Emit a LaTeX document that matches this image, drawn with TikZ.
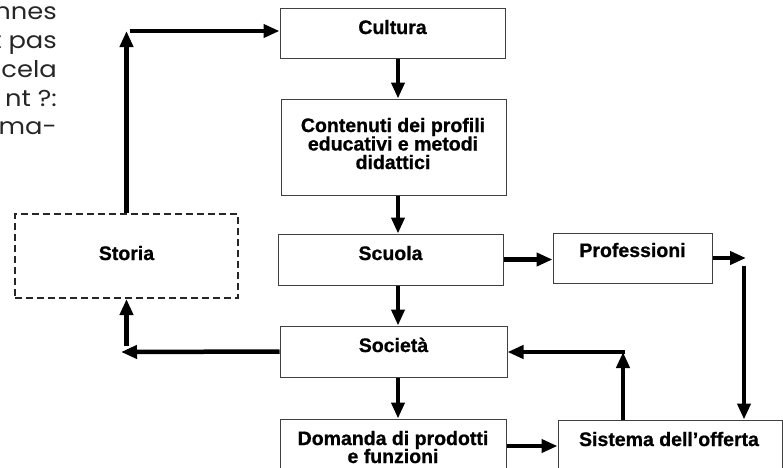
\documentclass[tikz,border=0pt]{standalone}
\usepackage{fontspec}
\setmainfont{Liberation Sans}
\newfontfamily\boxfont{Liberation Sans}[BoldFeatures={FakeBold=0.8}]
\newfontfamily\pagefont{Poppins}[FakeStretch=1.12]
\usetikzlibrary{arrows.meta}
\begin{document}
\begin{tikzpicture}[x=1pt,y=-1pt,
  box/.style={draw=black!75,line width=1pt,inner sep=0pt,rectangle},
  dbox/.style={draw=black!85,line width=2pt,dash pattern=on 7pt off 4pt,inner sep=0pt,rectangle},
  lbl/.style={font=\fontsize{19.5}{18}\boxfont\bfseries,inner sep=0pt,anchor=base,text height=13.5pt,text depth=3pt},
  ptxt/.style={font=\fontsize{23}{28}\pagefont,inner sep=0pt,anchor=base east,text=black!85},
  arr/.style={line width=4.5pt,-{Triangle[length=16pt,width=13pt]}}]
\useasboundingbox (0,0) rectangle (783,467);
% page text fragments
\node[ptxt] (l1) at (57,19) {nnes};
\node[ptxt] (l2) at (57,48) {t pas};
\node[ptxt] (l3) at (57,77) {cela};
\node[ptxt] (l4) at (57,106) {nt ?:};
\node[ptxt] (l5) at (57,134) {uma-};
% boxes
\node[box,minimum width=225pt,minimum height=50pt] (cul) at (392.5,33) {};
\node[box,minimum width=225pt,minimum height=96pt] (con) at (393.5,147) {};
\node[box,minimum width=225pt,minimum height=51pt] (scu) at (390.5,259.5) {};
\node[box,minimum width=159pt,minimum height=50pt] (pro) at (632.5,258) {};
\node[box,minimum width=227pt,minimum height=51pt] (soc) at (393.5,351.5) {};
\node[dbox,minimum width=223pt,minimum height=84pt] (sto) at (126.5,256) {};
\node[box,minimum width=226pt,minimum height=62pt] (dom) at (393,450) {};
\node[box,minimum width=224pt,minimum height=62pt] (sis) at (670,451) {};
% labels
\node[lbl] (tcul) at (392.5,34) {Cultura};
\node[lbl] (tcon1) at (393,132) {Contenuti dei profili};
\node[lbl] (tcon2) at (393,150.5) {educativi e metodi};
\node[lbl] (tcon3) at (393,169) {didattici};
\node[lbl] (tscu) at (390.5,260) {Scuola};
\node[lbl] (tpro) at (632.5,257) {Professioni};
\node[lbl] (tsoc) at (393.5,352) {Società};
\node[lbl] (tsto) at (126.5,260) {Storia};
\node[lbl] (tdom1) at (393,445) {Domanda di prodotti};
\node[lbl] (tdom2) at (393,463) {e funzioni};
\node[lbl] (tsis) at (669,446) {Sistema dell’offerta};
% helper coordinates
\coordinate (ax) at (398,0);
\coordinate (c1) at (126.5,31);
\coordinate (c1b) at (130,31);
\coordinate (c2) at (746,258);
\coordinate (c3) at (744,266);
\coordinate (c4) at (623,352);
\coordinate (c5) at (121,352);
\coordinate (c6) at (126.5,346);
\coordinate (c7) at (0,446);
% connectors
\draw[arr] (sto.north) -- (c1);
\draw[arr] (c1b) -- (c1b -| cul.west);
\draw[arr] (cul.south -| ax) -- (con.north -| ax);
\draw[arr] (con.south -| ax) -- (scu.north -| ax);
\draw[arr] (scu.east) -- (scu.east -| pro.west);
\draw[arr] (pro.east) -- (c2);
\draw[arr] (c3) -- (c3 |- sis.north);
\draw[arr] (scu.south -| ax) -- (soc.north -| ax);
\draw[arr] (c4 |- sis.north) -- (c4);
\draw[arr] ([xshift=2pt]c4) -- (c4 -| soc.east);
\draw[arr] (soc.west) -- (c5);
\draw[arr] (c6) -- (c6 |- sto.south);
\draw[arr] (soc.south -| ax) -- (dom.north -| ax);
\draw[arr] (dom.east |- c7) -- (sis.west |- c7);
\end{tikzpicture}
\end{document}
